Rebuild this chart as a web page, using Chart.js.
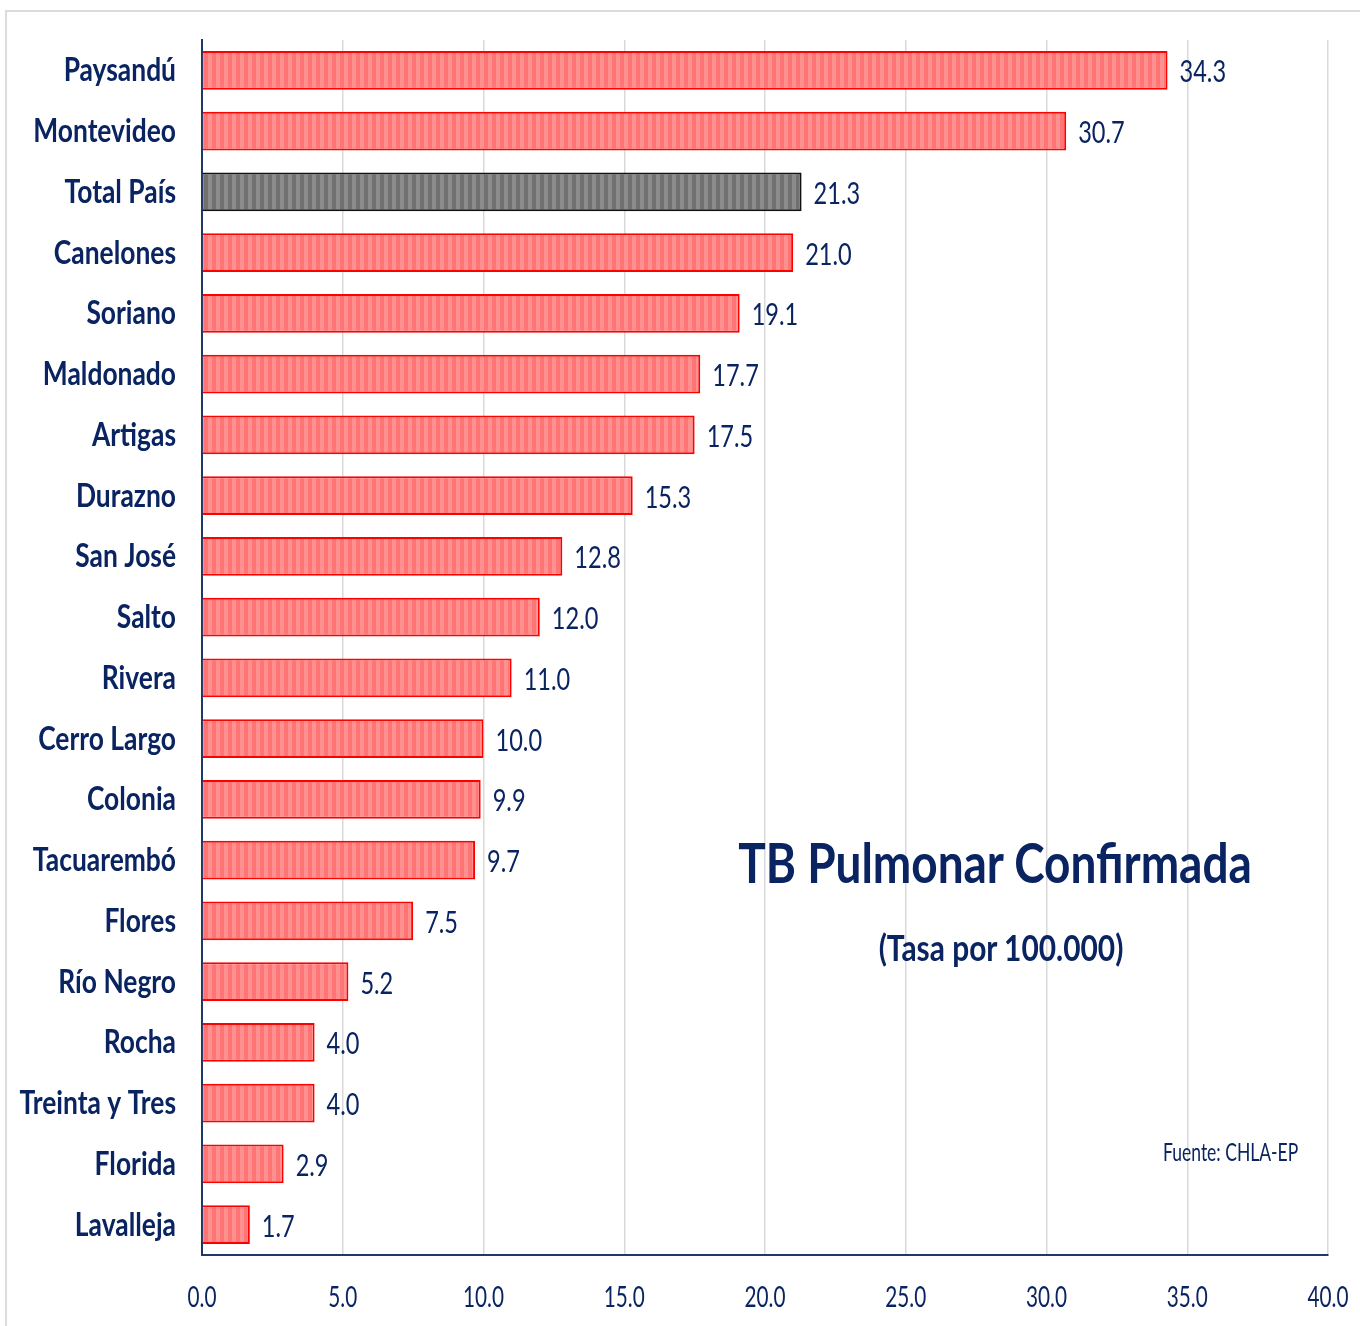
<!DOCTYPE html>
<html>
<head>
<meta charset="utf-8">
<script src="https://cdn.jsdelivr.net/npm/chart.js@4.4.1/dist/chart.umd.min.js"></script>
<style>
  html, body { margin:0; padding:0; background:#fff; }
  #wrap { position:relative; width:1360px; height:1326px; overflow:hidden; }
  #marco { position:absolute; left:5px; top:10px; width:1400px; height:1400px; border-left:2px solid #dcdcdc; border-top:2px solid #dcdcdc; }
  canvas { position:absolute; left:0; top:0; }
  .txt { position:absolute; color:#0a2461; font-family:Lato,"DejaVu Sans",sans-serif; line-height:1; white-space:nowrap; }
  #titulo { left:995px; top:834px; font-size:56px; font-weight:bold; transform:translateX(-50%) scaleX(0.82); }
  #subtitulo { left:1001px; top:929px; font-size:36px; font-weight:bold; transform:translateX(-50%) scaleX(0.83); }
  #fuente { left:1163px; top:1139px; font-size:25px; transform-origin:left top; transform:scaleX(0.70); }
</style>
</head>
<body>
<div id="wrap">
  <div id="marco"></div>
  <canvas id="grafico" width="1360" height="1326"></canvas>
  <div class="txt" id="titulo">TB Pulmonar Confirmada</div>
  <div class="txt" id="subtitulo">(Tasa por 100.000)</div>
  <div class="txt" id="fuente">Fuente: CHLA-EP</div>
</div>
<script>
// Departamentos, de mayor a menor tasa
const DEPARTAMENTOS = ['Paysandú','Montevideo','Total País','Canelones','Soriano','Maldonado','Artigas','Durazno',
  'San José','Salto','Rivera','Cerro Largo','Colonia','Tacuarembó','Flores','Río Negro','Rocha','Treinta y Tres',
  'Florida','Lavalleja'];
const TASAS = [34.3, 30.7, 21.3, 21.0, 19.1, 17.7, 17.5, 15.3, 12.8, 12.0, 11.0, 10.0, 9.9, 9.7, 7.5, 5.2, 4.0, 4.0, 2.9, 1.7];
const TOTAL = 'Total País';
const X_MIN = 0, X_MAX = 40, X_PASO = 5;

const FUENTE = 'Lato, "DejaVu Sans", sans-serif';
const AZUL = '#0a2461';

// patrón de rayas verticales
function rayas(claro, oscuro) {
  const c = document.createElement('canvas');
  c.width = 8; c.height = 4;
  const g = c.getContext('2d');
  g.fillStyle = claro;  g.fillRect(0, 0, 4, 4);
  g.fillStyle = oscuro; g.fillRect(4, 0, 4, 4);
  return g.createPattern(c, 'repeat');
}
const patRojo = rayas('#ff9090', '#ff7575');
const patGris = rayas('#8c8c8c', '#707070');

// texto angosto (estilo Calibri comprimido)
function texto(ctx, txt, x, y, align, sx) {
  ctx.save();
  ctx.translate(x, y);
  ctx.scale(sx, 1);
  ctx.textAlign = align;
  ctx.textBaseline = 'alphabetic';
  ctx.fillText(txt, 0, 0);
  ctx.restore();
}

// etiquetas de ejes y de valores, dibujadas a mano
const textos = {
  id: 'textos',
  afterDraw(chart) {
    const ctx = chart.ctx;
    const sy = chart.scales.y, sxEje = chart.scales.x;
    ctx.save();
    ctx.fillStyle = AZUL;

    ctx.font = 'bold 33px ' + FUENTE;
    DEPARTAMENTOS.forEach((d, i) => {
      texto(ctx, d, sy.right - 26, sy.getPixelForTick(i) + 11, 'right', 0.8);
    });

    ctx.font = '31px ' + FUENTE;
    chart.getDatasetMeta(0).data.forEach((bar, i) => {
      texto(ctx, TASAS[i].toFixed(1), bar.x + 12, bar.y + 12, 'left', 0.76);
    });

    ctx.font = '28px ' + FUENTE;
    sxEje.ticks.forEach(t => {
      texto(ctx, t.value.toFixed(1), sxEje.getPixelForValue(t.value), sxEje.top + 52, 'center', 0.74);
    });
    ctx.restore();
  }
};

new Chart(document.getElementById('grafico'), {
  type: 'bar',
  data: {
    labels: DEPARTAMENTOS,
    datasets: [{
      data: TASAS,
      backgroundColor: DEPARTAMENTOS.map(d => d === TOTAL ? patGris : patRojo),
      borderColor: DEPARTAMENTOS.map(d => d === TOTAL ? '#111111' : '#ff0000'),
      borderWidth: 2,
      borderSkipped: 'start',
      barPercentage: 0.64,
      categoryPercentage: 1,
    }],
  },
  options: {
    indexAxis: 'y',
    responsive: false,
    animation: false,
    layout: { padding: { top: 40, right: 32, left: 0, bottom: 0 } },
    plugins: { legend: { display: false }, tooltip: { enabled: false } },
    scales: {
      x: {
        min: X_MIN, max: X_MAX,
        ticks: { stepSize: X_PASO, display: false },
        grid: { color: '#d9d9d9', lineWidth: 1.5, drawTicks: false },
        border: { color: '#1f3864', width: 2 },
        afterFit: s => { s.height = 71; },
      },
      y: {
        ticks: { display: false },
        grid: { display: false, drawTicks: false },
        border: { display: true, color: '#1f3864', width: 2 },
        afterFit: s => { s.width = 202; },
      },
    },
  },
  plugins: [textos],
});
</script>
</body>
</html>
